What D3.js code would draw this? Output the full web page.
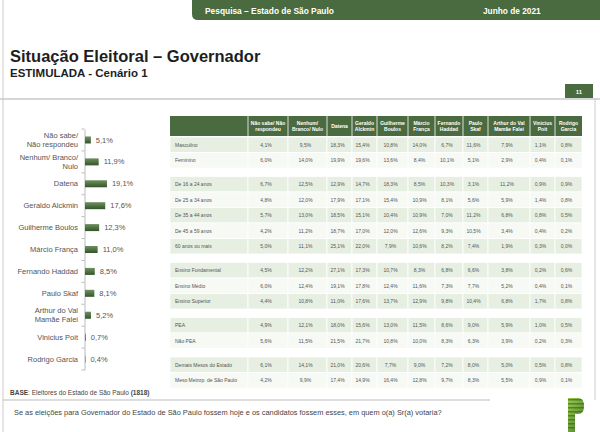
<!DOCTYPE html>
<html><head><meta charset="utf-8">
<script src="https://cdn.jsdelivr.net/npm/d3@7"></script>
<style>body{margin:0;background:#fff}svg{display:block;font-family:"Liberation Sans",Arial,sans-serif}</style>
</head><body><svg id="c" width="600" height="432"></svg>
<script>
// ---- data ----
const categories = ["Não sabe/\nNão respondeu","Nenhum/ Branco/\nNulo","Datena","Geraldo Alckmin","Guilherme Boulos","Márcio França","Fernando Haddad","Paulo Skaf","Arthur do Val\nMamãe Falei","Vinicius Poit","Rodrigo Garcia"];
const values = [5.1,11.9,19.1,17.6,12.3,11.0,8.5,8.1,5.2,0.7,0.4];
const tableColumns = ["Não sabe/ Não\nrespondeu","Nenhum/\nBranco/ Nulo","Datena","Geraldo\nAlckmin","Guilherme\nBoulos","Márcio\nFrança","Fernando\nHaddad","Paulo\nSkaf","Arthur do Val\nMamãe Falei","Vinicius\nPoit","Rodrigo\nGarcia"];
const groupSexo = ["Masculino","Feminino"];
const valsSexo = [
 [4.1,9.5,18.3,15.4,10.8,14.0,6.7,11.6,7.9,1.1,0.8],
 [6.0,14.0,19.9,19.6,13.6,8.4,10.1,5.1,2.9,0.4,0.1]];
const groupIdade = ["De 16 a 24 anos","De 25 a 34 anos","De 35 a 44 anos","De 45 a 59 anos","60 anos ou mais"];
const valsIdade = [
 [6.7,12.5,12.9,14.7,18.3,8.5,10.3,3.1,11.2,0.9,0.9],
 [4.8,12.0,17.9,17.1,15.4,10.9,8.1,5.6,5.9,1.4,0.8],
 [5.7,13.0,18.5,15.1,10.4,10.9,7.0,11.2,6.8,0.8,0.5],
 [4.2,11.2,18.7,17.0,12.0,12.6,9.3,10.5,3.4,0.4,0.2],
 [5.0,11.1,25.1,22.0,7.9,10.6,8.2,7.4,1.9,0.3,0.0]];
const groupEscol = ["Ensino Fundamental","Ensino Médio","Ensino Superior"];
const valsEscol = [
 [4.5,12.2,27.1,17.3,10.7,8.3,6.8,6.6,3.8,0.2,0.6],
 [6.0,12.4,19.1,17.8,12.4,11.6,7.3,7.7,5.2,0.4,0.1],
 [4.4,10.8,11.0,17.6,13.7,12.9,9.8,10.4,6.8,1.7,0.8]];
const groupPea = ["PEA","Não PEA"];
const valsPea = [
 [4.9,12.1,18.0,15.6,13.0,11.5,8.6,9.0,5.9,1.0,0.5],
 [5.6,11.5,21.5,21.7,10.8,10.0,8.3,6.3,3.9,0.2,0.3]];
const groupMeso = ["Demais Mesos do Estado","Meso Metrop. de São Paulo"];
const valsMeso = [
 [6.1,14.1,21.0,20.6,7.7,9.0,7.2,8.0,5.0,0.5,0.8],
 [4.2,9.9,17.4,14.9,16.4,12.8,9.7,8.3,5.5,0.9,0.1]];

const fmt = v => v.toFixed(1).replace(".", ",") + "%";
const GREEN = "#4a6a3f";
const svg = d3.select("#c");

// gradient
const defs = svg.append("defs");
const g1 = defs.append("linearGradient").attr("id","barg").attr("x1",0).attr("y1",0).attr("x2",0).attr("y2",1);
g1.append("stop").attr("offset","0%").attr("stop-color","#6f9160");
g1.append("stop").attr("offset","100%").attr("stop-color","#34542a");
const g2 = defs.append("linearGradient").attr("id","logog").attr("x1",0).attr("y1",0).attr("x2",1).attr("y2",1);
g2.append("stop").attr("offset","0%").attr("stop-color","#a6d04a");
g2.append("stop").attr("offset","100%").attr("stop-color","#3d7a2c");

// frame
svg.append("line").attr("x1",3).attr("x2",3).attr("y1",0).attr("y2",432).attr("stroke","#dcdcdc").attr("stroke-width",1.5);
svg.append("line").attr("x1",595).attr("x2",595).attr("y1",99).attr("y2",400).attr("stroke","#dcdcdc").attr("stroke-width",1.5);

// top band
svg.append("path").attr("d","M192,0 H600 V20 H198 Q192,20 192,14 Z").attr("fill",GREEN);
svg.append("text").attr("x",205).attr("y",13.5).attr("fill","#fff").attr("font-size",8.4).attr("font-weight","bold").text("Pesquisa – Estado de São Paulo");
svg.append("text").attr("x",483).attr("y",13.5).attr("fill","#fff").attr("font-size",8.3).attr("font-weight","bold").text("Junho de 2021");

// title
svg.append("text").attr("x",10).attr("y",62).attr("fill","#1e1e1e").attr("font-size",16.5).attr("font-weight","bold").text("Situação Eleitoral – Governador");
svg.append("text").attr("x",10).attr("y",77).attr("fill","#1e1e1e").attr("font-size",11.5).attr("font-weight","bold").text("ESTIMULADA - Cenário 1");
svg.append("rect").attr("x",565).attr("y",84).attr("width",28).attr("height",14).attr("fill",GREEN);
svg.append("text").attr("x",579).attr("y",93.5).attr("text-anchor","middle").attr("fill","#fff").attr("font-size",6).attr("font-weight","bold").text("11");
svg.append("line").attr("x1",0).attr("x2",600).attr("y1",99).attr("y2",99).attr("stroke","#c8c8c8").attr("stroke-width",1.5);

// ---- bar chart ----
const y = d3.scaleBand().domain(categories).range([129,370]).paddingInner(0.68).paddingOuter(0.34);
const x = d3.scaleLinear().domain([0,100]).range([85,200]);
const bc = svg.append("g");
const yAxis = d3.axisLeft(y).tickSize(0).tickFormat("");
const ax = bc.append("g").attr("transform","translate(84.5,0)").call(yAxis);
ax.select(".domain").attr("stroke","#bbb");
const step = y.step();
bc.selectAll("line.tk").data(d3.range(categories.length+1)).join("line")
  .attr("x1",81.5).attr("x2",84.5)
  .attr("y1",(d,i)=> y(categories[0]) - step*0.34 + i*step)
  .attr("y2",(d,i)=> y(categories[0]) - step*0.34 + i*step)
  .attr("stroke","#bbb");
bc.selectAll("rect.bar").data(values).join("rect")
  .attr("x",x(0)).attr("y",(d,i)=>y(categories[i]))
  .attr("width",d=>x(d)-x(0)).attr("height",y.bandwidth()).attr("fill","url(#barg)");
bc.selectAll("text.val").data(values).join("text")
  .attr("x",d=>x(d)+5).attr("y",(d,i)=>y(categories[i])+y.bandwidth()/2+2.6)
  .attr("font-size",7.5).attr("fill","#555").text(d=>fmt(d));
categories.forEach((c,i)=>{
  const lines = c.split("\n");
  const cy = y(c)+y.bandwidth()/2;
  const t = bc.append("text").attr("text-anchor","end").attr("font-size",7.5).attr("fill","#555");
  lines.forEach((l,j)=>{
    t.append("tspan").attr("x",78).attr("y",cy+2.6+(j-(lines.length-1)/2)*9).text(l);
  });
});

// ---- table ----
const colEdges = [170,248,288,327,352,377,408,435,463,488,530,555,582];
const tb = svg.append("g");
tb.append("rect").attr("x",colEdges[0]).attr("y",116).attr("width",colEdges[12]-colEdges[0]).attr("height",20).attr("fill",GREEN);
tableColumns.forEach((c,i)=>{
  const cx = (colEdges[i+1]+colEdges[i+2])/2;
  tb.append("line").attr("x1",colEdges[i+1]).attr("x2",colEdges[i+1]).attr("y1",116).attr("y2",136).attr("stroke","#fff").attr("stroke-width",0.8);
  const lines = c.split("\n");
  const t = tb.append("text").attr("text-anchor","middle").attr("font-size",5).attr("font-weight","bold").attr("fill","#fff");
  lines.forEach((l,j)=>t.append("tspan").attr("x",cx).attr("y",126+1.8+(j-(lines.length-1)/2)*6).text(l));
});
const groups = [[groupSexo,valsSexo],[groupIdade,valsIdade],[groupEscol,valsEscol],[groupPea,valsPea],[groupMeso,valsMeso]];
const RH = 15.5, GAP = 8.5;
let yy = 137;
groups.forEach(([labels,vals])=>{
  labels.forEach((lab,r)=>{
    const fill = r%2===0 ? "#e6efe1" : "#f6f9f4";
    for(let k=0;k<12;k++){
      tb.append("rect").attr("x",colEdges[k]).attr("y",yy).attr("width",colEdges[k+1]-colEdges[k]).attr("height",RH)
        .attr("fill",fill).attr("stroke","#fff").attr("stroke-width",0.8);
    }
    tb.append("text").attr("x",175).attr("y",yy+RH/2+1.8).attr("font-size",5).attr("fill","#555").text(lab);
    vals[r].forEach((v,k)=>{
      tb.append("text").attr("x",(colEdges[k+1]+colEdges[k+2])/2-2).attr("y",yy+RH/2+1.8)
        .attr("text-anchor","middle").attr("font-size",5).attr("fill","#555").text(fmt(v));
    });
    yy += RH;
  });
  yy += GAP;
});

// ---- footer ----
const base = svg.append("text").attr("x",10).attr("y",395).attr("font-size",6.5).attr("fill","#444");
base.append("tspan").attr("font-weight","bold").text("BASE");
base.append("tspan").text(": Eleitores do Estado de São Paulo ");
base.append("tspan").attr("font-weight","bold").text("(1818)");
svg.append("line").attr("x1",3).attr("x2",490).attr("y1",400).attr("y2",400).attr("stroke","#bbb").attr("stroke-width",1.2);
svg.append("text").attr("x",14).attr("y",415).attr("font-size",7.4).attr("fill","#444")
  .text("Se as eleições para Governador do Estado de São Paulo fossem hoje e os candidatos fossem esses, em quem o(a) Sr(a) votaria?");
// logo
const lg = svg.append("g");
const clip = defs.append("clipPath").attr("id","pclip");
clip.append("path").attr("d","M568,398 H578 Q584,398 584,406 Q584,414 578,414 H575 V432 H568 Z");
const lgr = lg.append("g").attr("clip-path","url(#pclip)");
lgr.append("rect").attr("x",566).attr("y",396).attr("width",20).attr("height",36).attr("fill","url(#logog)");
d3.range(0,8).forEach(i=>lgr.append("rect").attr("x",566).attr("y",399+i*4).attr("width",20).attr("height",1.5).attr("fill","#2f5e24").attr("opacity",0.6));
</script></body></html>
